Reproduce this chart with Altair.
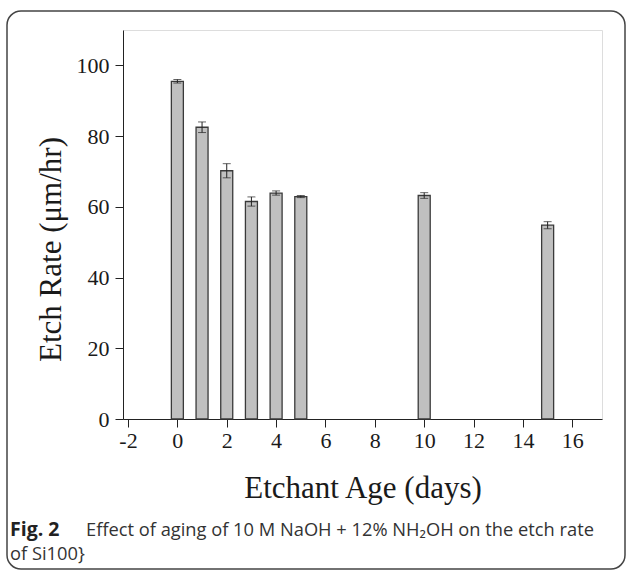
import altair as alt
import pandas as pd

# Etch rate of Si(100) versus etchant age
days = [0, 1, 2, 3, 4, 5, 10, 15]
rate = [95.5, 82.5, 70.2, 61.5, 63.9, 62.9, 63.2, 54.8]
err = [0.5, 1.5, 2.0, 1.3, 0.6, 0.3, 0.8, 1.0]

x_title = "Etchant Age (days)"
y_title = "Etch Rate (\u03bcm/hr)"
fig_label = "Fig. 2"
caption_1 = "Effect of aging of 10 M NaOH + 12% NH\u2082OH on the etch rate"
caption_2 = "of Si100}"

df = pd.DataFrame({"day": days, "rate": rate, "err": err})
df["lo"] = df["rate"] - df["err"]
df["hi"] = df["rate"] + df["err"]

W, H = 479, 389
SERIF = "Liberation Serif"
SANS = "Open Sans"
INK = "#1a1a1a"

x_scale = alt.Scale(domain=[-2, 17], nice=False, zero=False)
y_scale = alt.Scale(domain=[0, 110], nice=False)

x_axis = alt.Axis(
    values=list(range(-2, 18)),
    # plain hyphen for negatives, labels on even days only
    labelExpr="datum.value % 2 === 0 ? ('' + datum.value) : ''",
    tickSize={"condition": {"test": "datum.value % 2 === 0", "value": 8}, "value": 4},
    labelFont=SERIF, labelFontSize=22, labelColor=INK, labelPadding=3,
    labelFlush=False, labelOverlap=False,
    title=x_title, titleFont=SERIF, titleFontSize=31, titleFontWeight="normal",
    titleColor=INK, titleX=W / 2, titleY=78, titleBaseline="alphabetic",
    domainColor="#222", tickColor="#222", grid=False,
)
y_axis = alt.Axis(
    values=list(range(0, 111, 10)),
    labelExpr="datum.value % 20 === 0 && datum.value <= 100 ? datum.label : ''",
    tickSize={"condition": {"test": "datum.value % 20 === 0", "value": 8}, "value": 4},
    labelFont=SERIF, labelFontSize=22, labelColor=INK, labelPadding=6,
    labelFlush=False, labelOverlap=False,
    title=y_title, titleFont=SERIF, titleFontSize=31, titleFontWeight="normal",
    titleColor=INK, titleAngle=270, titleX=-63, titleY=219,
    titleBaseline="alphabetic",
    domainColor="#222", tickColor="#222", grid=False,
)

base = alt.Chart(df)

bars = base.mark_bar(size=12, color="#c0c0c0", stroke="#3a3a3a", strokeWidth=1.3).encode(
    x=alt.X("day:Q", scale=x_scale, axis=x_axis),
    y=alt.Y("rate:Q", scale=y_scale, axis=y_axis),
)

whisker = base.mark_rule(color="#222", strokeWidth=1).encode(
    x="day:Q", y="lo:Q", y2="hi:Q"
)
cap_lo = base.mark_tick(color="#222", size=8, thickness=1, orient="horizontal").encode(
    x="day:Q", y="lo:Q"
)
cap_hi = base.mark_tick(color="#222", size=8, thickness=1, orient="horizontal").encode(
    x="day:Q", y="hi:Q"
)

note = pd.DataFrame({"fig": [fig_label], "c1": [caption_1], "c2": [caption_2]})
nbase = alt.Chart(note)

frame = nbase.mark_rect(
    fill="white", fillOpacity=0, stroke="#444", strokeWidth=1.5, cornerRadius=14
).encode(x=alt.value(-116), x2=alt.value(502), y=alt.value(-19), y2=alt.value(539))

fig_text = nbase.mark_text(
    font=SANS, fontSize=19.5, fontWeight="bold", align="left", baseline="alphabetic", color="#222"
).encode(x=alt.value(-113), y=alt.value(506), text="fig:N")
cap1_text = nbase.mark_text(
    font=SANS, fontSize=18.3, align="left", baseline="alphabetic", color="#333"
).encode(x=alt.value(-37), y=alt.value(506), text="c1:N")
cap2_text = nbase.mark_text(
    font=SANS, fontSize=18.3, align="left", baseline="alphabetic", color="#333"
).encode(x=alt.value(-113), y=alt.value(530), text="c2:N")

chart = alt.layer(
    frame, bars, whisker, cap_lo, cap_hi, fig_text, cap1_text, cap2_text
).properties(
    width=W, height=H,
    autosize="none",
    padding={"left": 123, "top": 30, "right": 25, "bottom": 152},
).configure_view(stroke="#333", strokeWidth=1.2).configure(background="white")

chart.save("out.html", embed_options={"renderer": "svg", "actions": False})
